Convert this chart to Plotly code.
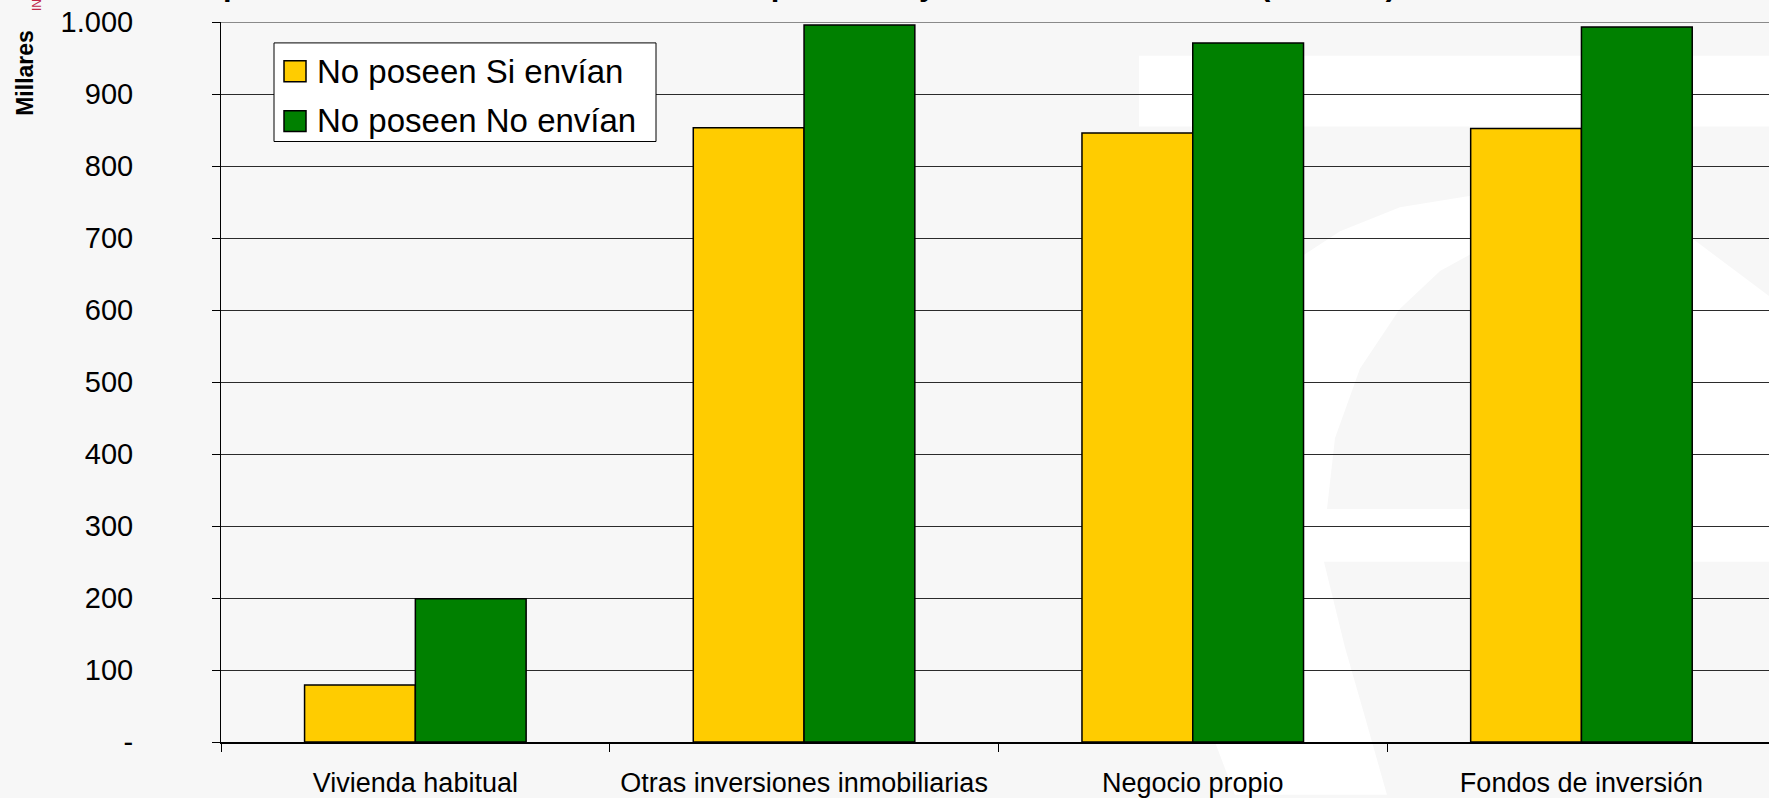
import plotly.graph_objects as go

# datos (millares)
categorias = ["Vivienda habitual", "Otras inversiones inmobiliarias", "Negocio propio", "Fondos de inversión"]
serie_si = "No poseen Si envían"
serie_no = "No poseen No envían"
valores_si = [79, 853, 846, 852]
valores_no = [199, 996, 971, 993]
ticks_y = [0, 100, 200, 300, 400, 500, 600, 700, 800, 900, 1000]
etiquetas_y = ["-", "100", "200", "300", "400", "500", "600", "700", "800", "900", "1.000"]

AMARILLO = "#FFCC00"
VERDE = "#008000"
FONDO = "#f7f7f7"
FUENTE = "Liberation Sans, Arial, sans-serif"

W, H = 1769, 798
L, T, B = 221, 22, 53


# pixel -> paper (only for decoration: watermark, legend box)
def px(x):
    return (x - L) / (W - L)


def py(y):
    return (H - B - y) / (H - B - T)


def path(points):
    return "M " + " L ".join(f"{px(x):.4f},{py(y):.4f}" for x, y in points) + " Z"


fig = go.Figure()
fig.add_trace(go.Bar(x=categorias, y=valores_si, name=serie_si, showlegend=False,
                     marker=dict(color=AMARILLO, line=dict(color="black", width=1.5))))
fig.add_trace(go.Bar(x=categorias, y=valores_no, name=serie_no, showlegend=False,
                     marker=dict(color=VERDE, line=dict(color="black", width=1.5))))

shapes = []
# faint watermark logo behind the chart
shapes.append(dict(type="rect", xref="paper", yref="paper", layer="below",
                   x0=px(1139), x1=px(1769), y0=py(127), y1=py(56),
                   fillcolor="white", line=dict(width=0)))
shapes.append(dict(type="path", xref="paper", yref="paper", layer="below",
                   path=path([(1235, 798), (1215, 745), (1205, 650), (1203, 560), (1208, 470),
                              (1222, 380), (1250, 310), (1290, 265), (1340, 232), (1400, 208),
                              (1480, 195), (1580, 200), (1693, 240), (1769, 297), (1769, 564),
                              (1324, 564), (1345, 650), (1365, 720), (1387, 798)]),
                   fillcolor="white", line=dict(width=0)))
shapes.append(dict(type="path", xref="paper", yref="paper", layer="below",
                   path=path([(1327, 511), (1335, 440), (1360, 370), (1400, 310), (1440, 272),
                              (1480, 250), (1560, 255), (1640, 300), (1650, 511)]),
                   fillcolor=FONDO, line=dict(width=0)))
# top border of plot area
shapes.append(dict(type="line", xref="paper", yref="y", layer="above",
                   x0=0, x1=1, y0=1000, y1=1000, line=dict(color="#8a8a8a", width=2)))
# legend box
shapes.append(dict(type="rect", xref="paper", yref="paper", layer="above",
                   x0=px(274), x1=px(656), y0=py(142), y1=py(43),
                   fillcolor="white", line=dict(color="black", width=1)))
for (y0, y1), color in [((61, 82), AMARILLO), ((111, 132), VERDE)]:
    shapes.append(dict(type="rect", xref="paper", yref="paper", layer="above",
                       x0=px(284), x1=px(306), y0=py(y1), y1=py(y0),
                       fillcolor=color, line=dict(color="black", width=1.5)))

annotations = [
    dict(text=serie_si, xref="paper", yref="paper", x=px(315), y=py(72),
         xanchor="left", yanchor="middle", showarrow=False,
         font=dict(size=33, color="black", family=FUENTE)),
    dict(text=serie_no, xref="paper", yref="paper", x=px(315), y=py(121),
         xanchor="left", yanchor="middle", showarrow=False,
         font=dict(size=33, color="black", family=FUENTE)),
    dict(text="<b>Millares</b>", xref="paper", yref="paper", x=px(25), y=py(73),
         xanchor="center", yanchor="middle", textangle=-90, showarrow=False,
         font=dict(size=23, color="black", family=FUENTE)),
    dict(text="INE", xref="paper", yref="paper", x=px(37), y=py(13),
         xanchor="center", yanchor="bottom", textangle=-90, showarrow=False,
         font=dict(size=12, color="#c0284a", family=FUENTE)),
    # title, mostly cut off by the top edge
    dict(text="<b>Tipo de inversión de los no inversores por envío y no envío de remesas (Millares)</b>",
         xref="paper", yref="paper", x=px(796), y=py(4),
         xanchor="center", yanchor="bottom", showarrow=False,
         font=dict(size=31, color="black", family=FUENTE)),
]

fig.update_layout(
    width=W, height=H,
    margin=dict(l=L, r=0, t=T, b=B),
    paper_bgcolor=FONDO,
    plot_bgcolor="rgba(0,0,0,0)",
    barmode="group",
    bargap=0.43,
    bargroupgap=0,
    shapes=shapes,
    annotations=annotations,
    showlegend=False,
    font=dict(family=FUENTE, color="black"),
)
fig.update_xaxes(
    range=[-0.5, -0.5 + (W - L) / 388.7],
    tickson="boundaries", ticks="outside", ticklen=8, tickcolor="black",
    showline=True, linecolor="black", linewidth=2,
    showgrid=False, ticklabelstandoff=16,
    tickfont=dict(size=27, color="black", family=FUENTE),
)
fig.update_yaxes(
    range=[0, 1000], tickvals=ticks_y, ticktext=etiquetas_y,
    ticks="outside", ticklen=8, tickcolor="black",
    showline=True, linecolor="black", linewidth=1,
    showgrid=True, gridcolor="#2b2b2b", gridwidth=1,
    zeroline=False, ticklabelstandoff=73,
    tickfont=dict(size=29, color="black", family=FUENTE),
)

# the page's default 8px body margin would shift the figure
fig.write_html("out.html", config={"displayModeBar": False},
               post_script="document.body.style.margin='0px';document.body.style.overflow='hidden';")
